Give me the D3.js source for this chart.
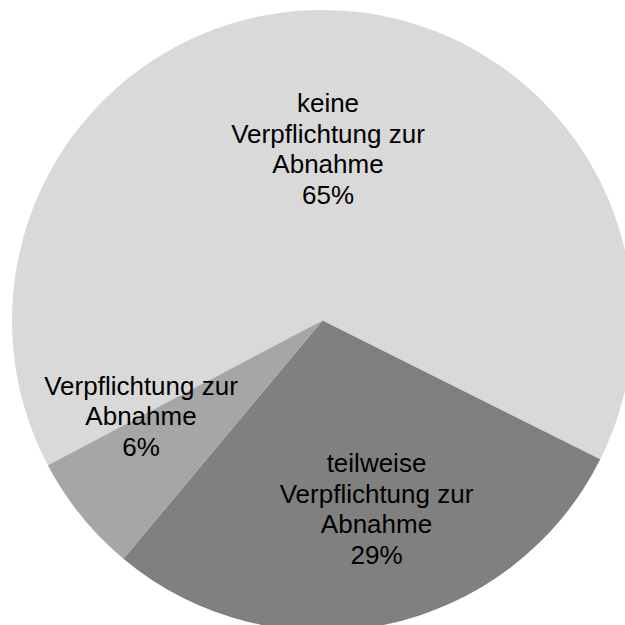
<!DOCTYPE html>
<html>
  <head>
    <meta charset="utf-8">
    <title>Verpflichtung zur Abnahme</title>
    <script src="https://d3js.org/d3.v7.min.js"></script>
    <style>
      html, body { margin: 0; padding: 0; background: #fff; overflow: hidden; }
      svg { display: block; }
      .label { font-family: "Liberation Sans", Arial, sans-serif; font-size: 26px; fill: #000; }
    </style>
  </head>
  <body>
    <svg id="chart" width="625" height="625"></svg>
    <script>
      // chart data (share of the pie)
      var categories = ["keine Verpflichtung zur Abnahme", "teilweise Verpflichtung zur Abnahme", "Verpflichtung zur Abnahme"];
      var values = [0.651, 0.287, 0.062];
      // label lines as shown in the chart
      var labelLines = [
        ["keine", "Verpflichtung zur", "Abnahme"],
        ["teilweise", "Verpflichtung zur", "Abnahme"],
        ["Verpflichtung zur", "Abnahme"]
      ];
      var colors = ["#d9d9d9", "#808080", "#a6a6a6"];

      // layout
      var width = 625, height = 625;
      var cx = 322.5, cy = 320.5, radius = 310.5;
      var lineHeight = 30.5;
      // label anchor (centre x, first baseline) relative to pie centre
      var labelOffsets = [[5.5, -208.5], [54, 151.5], [-181.5, 74]];

      var data = categories.map(function(c, i) {
        return { name: c, value: values[i], lines: labelLines[i], color: colors[i], offset: labelOffsets[i] };
      });

      var startAngle = -117.8 * Math.PI / 180;
      var pie = d3.pie()
        .sort(null)
        .value(function(d) { return d.value; })
        .startAngle(startAngle)
        .endAngle(startAngle + 2 * Math.PI);
      var arc = d3.arc().innerRadius(0).outerRadius(radius);

      var chart = d3.select("#chart");
      var g = chart.append("g").attr("transform", "translate(" + cx + "," + cy + ")");

      g.selectAll(".slice")
        .data(pie(data))
        .enter().append("path")
          .attr("class", "slice")
          .attr("d", arc)
          .attr("fill", function(d) { return d.data.color; });

      var fmt = d3.format(".0%");
      var labels = g.selectAll(".label")
        .data(pie(data))
        .enter().append("text")
          .attr("class", "label")
          .attr("text-anchor", "middle")
          .attr("x", function(d) { return d.data.offset[0]; })
          .attr("y", function(d) { return d.data.offset[1]; });

      labels.selectAll("tspan")
        .data(function(d) { return d.data.lines.concat([fmt(d.data.value)]); })
        .enter().append("tspan")
          .attr("x", function() { return d3.select(this.parentNode).attr("x"); })
          .attr("dy", function(d, i) { return i === 0 ? 0 : lineHeight; })
          .text(function(d) { return d; });
    </script>
  </body>
</html>
